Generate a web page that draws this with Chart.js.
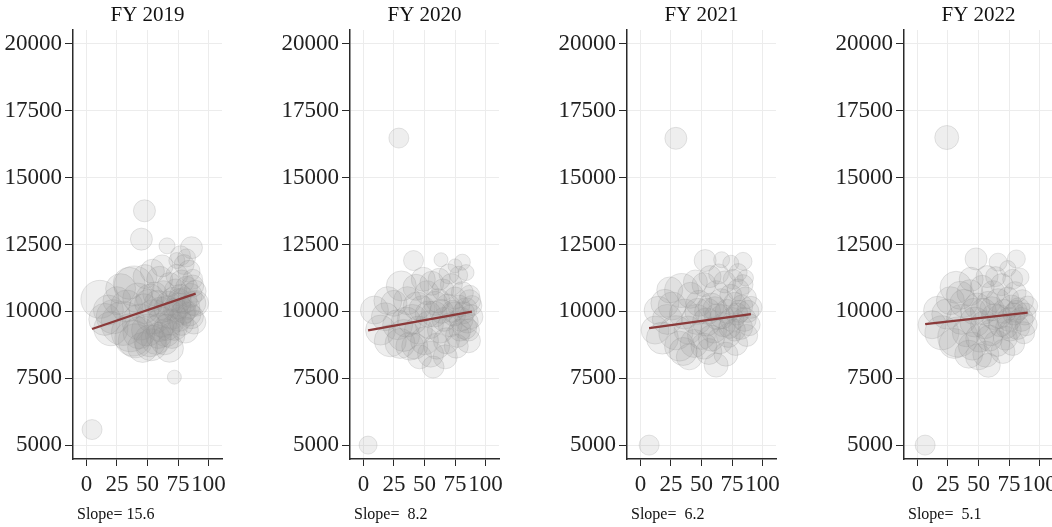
<!DOCTYPE html>
<html>
<head>
  <meta charset="UTF-8" />
  <title>Spending vs. share, by fiscal year</title>
  <script src="https://cdn.jsdelivr.net/npm/chart.js"></script>
  <style>
    body { margin: 0; width: 1052px; height: 527px; overflow: hidden; background: #fff; position: relative; }
    .panel { position: absolute; top: 0; width: 277px; height: 527px; }
  </style>
</head>
<body>
  <div class="panel" style="left:0px"><canvas id="c0" width="277" height="527"></canvas></div>
  <div class="panel" style="left:277px"><canvas id="c1" width="277" height="527"></canvas></div>
  <div class="panel" style="left:554px"><canvas id="c2" width="277" height="527"></canvas></div>
  <div class="panel" style="left:831px"><canvas id="c3" width="277" height="527"></canvas></div>

  <script>
    const years = ['FY 2019', 'FY 2020', 'FY 2021', 'FY 2022'];
    const slopes = [15.6, 8.2, 6.2, 5.1];
    const intercepts = [9268, 9259, 9333, 9494];
    const xTicks = [0, 25, 50, 75, 100];
    const yTicks = [5000, 7500, 10000, 12500, 15000, 17500, 20000];

    // [x, y, size]
    const fy2019 = [
      [4.6, 5580, 10], [72, 7540, 7], [47.5, 13760, 11], [45, 12700, 11], [66, 12450, 8],
      [86, 12380, 11], [77, 12080, 10], [82, 12000, 9], [74, 11900, 8], [80, 11750, 10],
      [11, 10450, 19], [39, 10950, 20], [30, 9550, 22], [68, 8620, 14], [89.4, 10300, 13],
      [18, 10050, 15], [22, 9800, 17], [25, 10400, 14], [33, 10200, 16], [36, 9200, 19],
      [40, 8900, 17], [44, 9600, 18], [47, 10100, 15], [50, 9300, 16], [52, 10500, 14],
      [55, 9800, 17], [57, 8950, 15], [58, 10300, 13], [60, 11200, 13], [62, 9600, 15],
      [63, 10700, 12], [65, 9200, 14], [66, 10100, 13], [68, 11000, 12], [70, 9850, 14],
      [71, 10450, 12], [72, 9400, 13], [73, 10800, 11], [74, 11350, 11], [75, 10200, 13],
      [76, 9700, 12], [77, 10600, 11], [78, 11100, 12], [79, 9950, 12], [80, 10400, 13],
      [81, 9300, 13], [82, 10900, 11], [83, 10150, 12], [84, 11500, 11], [85, 10600, 12],
      [86, 9800, 12], [87, 10950, 11], [88, 10300, 12], [88, 9600, 12], [89, 10750, 11],
      [87, 11200, 10], [48, 11300, 12], [42, 10500, 15], [35, 11050, 16], [28, 10850, 15],
      [20, 9350, 17], [15, 9700, 16], [53, 8750, 16], [46, 8650, 15], [60, 9400, 14],
      [64, 8900, 14], [54, 11500, 12], [62, 11700, 11], [67, 10300, 12], [69, 9600, 13],
      [61, 10050, 13], [56, 10650, 12], [73, 10050, 12], [78, 9550, 12], [84, 9900, 12],
      [59, 9100, 13], [51, 10300, 14], [43, 9200, 16], [38, 9000, 18], [52, 8900, 16],
      [70, 9100, 13], [80, 10000, 12], [76, 10400, 12], [66, 9400, 13]
    ];
    const fy2020 = [
      [3.8, 5000, 9], [29, 16480, 10], [41, 11900, 10], [63.5, 11930, 7], [81, 11840, 8],
      [75, 11700, 7], [57, 7920, 11], [78, 11350, 9], [84, 11450, 8], [9, 10050, 14],
      [31, 10950, 15], [46, 8300, 12], [88.8, 10220, 10], [14, 9300, 15], [18, 9800, 14],
      [22, 8900, 16], [25, 10300, 13], [28, 9500, 15], [33, 9100, 16], [36, 10400, 14],
      [38, 8700, 14], [40, 9700, 15], [43, 10900, 13], [45, 9300, 14], [48, 10100, 13],
      [50, 8900, 14], [52, 10700, 12], [54, 9500, 14], [56, 11050, 12], [58, 9900, 13],
      [60, 8700, 13], [61, 10400, 12], [63, 9300, 13], [65, 10800, 11], [66, 9700, 12],
      [68, 8900, 13], [69, 10200, 12], [71, 9500, 12], [72, 11000, 11], [74, 9900, 12],
      [75, 10500, 11], [77, 9100, 12], [78, 10200, 11], [80, 9700, 12], [81, 10700, 11],
      [83, 9400, 12], [84, 10100, 11], [86, 8900, 12], [87, 10400, 11], [88, 9800, 12],
      [86, 9300, 11], [87, 10600, 10], [85, 9600, 11], [70, 11400, 10], [62, 11200, 11],
      [49, 11200, 12], [35, 9600, 15], [20, 10400, 14], [55, 8400, 13], [67, 8300, 12],
      [44, 10200, 14], [76, 8700, 12], [59, 10300, 12], [73, 10000, 11], [82, 9950, 11],
      [64, 10000, 12], [53, 9900, 13], [30, 8800, 15], [42, 8700, 13], [79, 9300, 11]
    ];
    const fy2021 = [
      [7.1, 5000, 10], [29, 16470, 11], [53, 11900, 11], [66.5, 11930, 8], [84, 11870, 9],
      [74, 11800, 8], [62, 7990, 12], [80, 11450, 9], [86, 11250, 8], [14.5, 10040, 14],
      [33.7, 10780, 17], [90.5, 10150, 11], [12, 9300, 14], [18, 9000, 16], [22, 9700, 15],
      [26, 10200, 14], [29, 9200, 17], [32, 8700, 15], [36, 9900, 15], [39, 9300, 14],
      [41, 10600, 13], [44, 8800, 14], [46, 9700, 15], [48, 10300, 13], [50, 9100, 14],
      [52, 11000, 12], [54, 9600, 14], [56, 8500, 13], [58, 10200, 13], [60, 9300, 13],
      [62, 10700, 12], [63, 9800, 13], [65, 8900, 13], [66, 10400, 12], [68, 9500, 12],
      [69, 11100, 11], [71, 10000, 12], [72, 9100, 12], [74, 10600, 11], [75, 9700, 12],
      [77, 10300, 11], [78, 8800, 12], [79, 9900, 11], [80, 10800, 11], [82, 9400, 12],
      [83, 10200, 11], [85, 9700, 12], [86, 10500, 11], [87, 9100, 11], [88, 10000, 11],
      [89, 9500, 11], [84, 11000, 10], [76, 11200, 10], [57, 11300, 11], [45, 11100, 12],
      [24, 10800, 13], [40, 8300, 13], [70, 8400, 12], [52, 8700, 13], [61, 10100, 12],
      [73, 9400, 11], [81, 10000, 11], [67, 9800, 12], [55, 10000, 13], [47, 10000, 13],
      [64, 11400, 10], [35, 8500, 14], [20, 10300, 14], [58, 9000, 13], [77, 9300, 11]
    ];
    const fy2022 = [
      [6.3, 5000, 10], [24, 16500, 12], [48, 11960, 11], [66, 11840, 9], [81, 11960, 9],
      [84, 11280, 9], [58, 7985, 12], [74, 11600, 8], [16.5, 10040, 14], [31.6, 10900, 16],
      [33, 9040, 20], [90.3, 10200, 10], [12, 9500, 14], [20, 9200, 17], [24, 9900, 15],
      [27, 10400, 14], [30, 8800, 15], [36, 9700, 15], [38, 10300, 14], [40, 9200, 14],
      [43, 10700, 13], [45, 8700, 14], [47, 9600, 15], [49, 10200, 13], [51, 9000, 14],
      [53, 10900, 12], [55, 9500, 14], [56, 8400, 13], [58, 10300, 12], [60, 9200, 13],
      [62, 10700, 12], [63, 9800, 13], [65, 8800, 13], [66, 10400, 12], [68, 9500, 12],
      [69, 11000, 11], [71, 10000, 12], [72, 9000, 12], [74, 10500, 11], [75, 9700, 12],
      [77, 10200, 11], [78, 8800, 12], [79, 9900, 11], [80, 10700, 11], [82, 9400, 12],
      [83, 10100, 11], [85, 9700, 12], [86, 10400, 11], [87, 9200, 11], [88, 9900, 11],
      [89, 9500, 11], [78, 11200, 10], [57, 11300, 11], [44, 11200, 12], [50, 8300, 13],
      [70, 8500, 12], [61, 10100, 12], [73, 9400, 11], [81, 10000, 11], [67, 9800, 12],
      [54, 10000, 13], [46, 10000, 13], [64, 11300, 10], [35, 10600, 14], [42, 8400, 14],
      [59, 9000, 13], [76, 9300, 11]
    ];
    const panels = [fy2019, fy2020, fy2021, fy2022];

    const serif = '"Liberation Serif", "DejaVu Serif", serif';
    const axisColor = '#2a2a2a';

    // title above each panel, slope note under the x axis
    const panelText = {
      id: 'panelText',
      afterDraw(chart, args, opts) {
        const { ctx, chartArea } = chart;
        ctx.save();
        ctx.fillStyle = '#111';
        ctx.font = '21px ' + serif;
        ctx.textAlign = 'center';
        ctx.textBaseline = 'middle';
        ctx.fillText(opts.title, (chartArea.left + chartArea.right) / 2, 15);
        ctx.font = '16px ' + serif;
        ctx.textAlign = 'left';
        ctx.textBaseline = 'alphabetic';
        ctx.fillText(opts.note, chartArea.left + 4, 519);
        ctx.restore();
      }
    };

    function slopeNote(s) {
      return 'Slope= ' + (s < 10 ? ' ' : '') + s.toFixed(1);
    }

    function create_chart(i) {
      const pts = panels[i];
      const xs = pts.map(p => p[0]);
      const x0 = Math.min(...xs), x1 = Math.max(...xs);
      const fit = [x0, x1].map(x => ({ x: x, y: intercepts[i] + slopes[i] * x }));

      const ctx = document.getElementById('c' + i).getContext('2d');
      return new Chart(ctx, {
        type: 'bubble',
        data: {
          datasets: [
            {
              type: 'line',
              data: fit,
              borderColor: '#8b3a3a',
              borderWidth: 2.3,
              pointRadius: 0,
              fill: false,
              order: 0,
            },
            {
              data: pts.map(p => ({ x: p[0], y: p[1], r: p[2] })),
              backgroundColor: 'rgba(150,150,150,0.16)',
              borderColor: 'rgba(140,140,140,0.22)',
              borderWidth: 1,
              order: 1,
            }
          ]
        },
        options: {
          responsive: false,
          animation: false,
          layout: { padding: { left: 0, right: 55, top: 30, bottom: 0 } },
          plugins: {
            legend: { display: false },
            tooltip: { enabled: false },
            panelText: { title: years[i], note: slopeNote(slopes[i]) }
          },
          scales: {
            x: {
              type: 'linear',
              min: -11,
              max: 111,
              afterBuildTicks: s => { s.ticks = xTicks.map(v => ({ value: v })); },
              afterFit: s => { s.height = 68; },
              grid: { color: '#ececec', tickColor: axisColor, tickLength: 7 },
              border: { color: axisColor, width: 1.5 },
              ticks: {
                font: { family: serif, size: 23 },
                color: '#222',
                padding: 5,
                autoSkip: false,
                maxRotation: 0,
                callback: v => String(v)
              }
            },
            y: {
              type: 'linear',
              min: 4480,
              max: 20520,
              afterBuildTicks: s => { s.ticks = yTicks.map(v => ({ value: v })); },
              afterFit: s => { s.width = 73; },
              grid: { color: '#ececec', tickColor: axisColor, tickLength: 8 },
              border: { color: axisColor, width: 1.5 },
              ticks: {
                font: { family: serif, size: 23 },
                color: '#222',
                padding: 3,
                callback: v => String(v)
              }
            }
          }
        },
        plugins: [panelText]
      });
    }

    const charts = [0, 1, 2, 3].map(create_chart);
  </script>
</body>
</html>
